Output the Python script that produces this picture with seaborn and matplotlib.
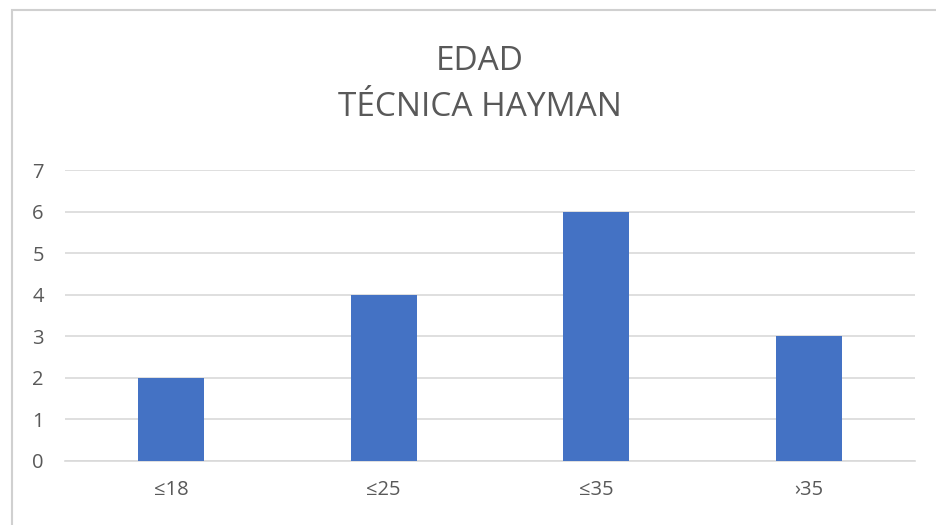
import pandas as pd
import seaborn as sns
import matplotlib.pyplot as plt
from matplotlib.patches import Rectangle

categories = ['≤18', '≤25', '≤35', '›35']
values = [2, 4, 6, 3]

sns.set_theme(style='white')
plt.rcParams['font.family'] = ['Open Sans', 'DejaVu Sans']

df = pd.DataFrame({'edad': categories, 'n': values})

fig = plt.figure(figsize=(9.37, 5.25), dpi=100)
ax = fig.add_axes([0.069, 0.122, 0.908, 0.554])

# outer chart frame (runs off the bottom/right edge like the screenshot)
fig.patches.append(Rectangle((12 / 937, -0.05), 1.05, 1.05 - 10 / 525, transform=fig.transFigure,
                             fill=False, edgecolor='#d0d0d0', linewidth=1.5, zorder=0))

sns.barplot(data=df, x='edad', y='n', color='#4472C4', width=0.31, saturation=1,
            linewidth=0, ax=ax, zorder=3)

ax.set_ylim(0, 7)
ax.set_yticks(range(0, 8))
ax.yaxis.grid(True, color='#d9d9d9', linewidth=1.2)
ax.set_axisbelow(True)
for s in ['top', 'right', 'left']:
    ax.spines[s].set_visible(False)
ax.spines['bottom'].set_color('#d9d9d9')
ax.spines['bottom'].set_linewidth(1.2)
ax.tick_params(axis='both', colors='#595959', labelsize=14.5, length=0)
ax.tick_params(axis='x', pad=14)
ax.tick_params(axis='y', pad=15)
ax.set_xlabel('')
ax.set_ylabel('')

fig.text(0.512, 1 - 62 / 525, 'EDAD', ha='center', va='center', fontsize=24, color='#595959')
fig.text(0.512, 1 - 108 / 525, 'TÉCNICA HAYMAN', ha='center', va='center', fontsize=24, color='#595959')

fig.savefig('out.png', dpi=100)
